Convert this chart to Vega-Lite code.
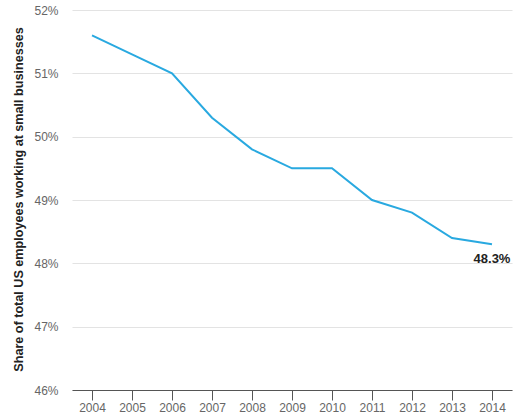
{
  "$schema": "https://vega.github.io/schema/vega-lite/v6.json",
  "width": 440,
  "height": 380,
  "autosize": {"type": "none"},
  "padding": {"left": 72, "top": 10, "right": 4, "bottom": 25},
  "config": {"view": {"stroke": null}, "font": "Liberation Sans"},
  "data": {"values": [
    {"year": "2004", "share": 51.6},
    {"year": "2005", "share": 51.3},
    {"year": "2006", "share": 51.0},
    {"year": "2007", "share": 50.3},
    {"year": "2008", "share": 49.8},
    {"year": "2009", "share": 49.5},
    {"year": "2010", "share": 49.5},
    {"year": "2011", "share": 49.0},
    {"year": "2012", "share": 48.8},
    {"year": "2013", "share": 48.4},
    {"year": "2014", "share": 48.3}
  ]},
  "encoding": {
    "x": {"field": "year", "type": "ordinal", "scale": {"type": "point", "padding": 0.5},
      "axis": {"title": null, "labelAngle": 0, "domainColor": "#555", "tickColor": "#555", "tickSize": 10, "labelPadding": 2, "labelColor": "#666", "labelFontSize": 12, "grid": false}},
    "y": {"field": "share", "type": "quantitative", "scale": {"domain": [46, 52], "zero": false, "nice": false},
      "axis": {"values": [46, 47, 48, 49, 50, 51, 52], "labelExpr": "datum.value + '%'", "ticks": false, "domain": false,
        "labelPadding": 14, "labelColor": "#666", "labelFontSize": 12, "gridColor": "#e3e3e3",
        "title": "Share of total US employees working at small businesses", "titleFontWeight": "bold", "titleFontSize": 12.6, "titleColor": "#222",
        "titleX": -54, "titleY": 189, "titleAngle": -90, "titleAlign": "center", "titleBaseline": "middle"}}
  },
  "layer": [
    {"mark": {"type": "line", "color": "#29a9e0", "strokeWidth": 2}},
    {"transform": [{"filter": "datum.year == '2014'"}],
     "mark": {"type": "text", "dy": 15, "align": "center", "fontWeight": "bold", "fontSize": 13, "color": "#222"},
     "encoding": {"text": {"value": "48.3%"}}}
  ]
}
